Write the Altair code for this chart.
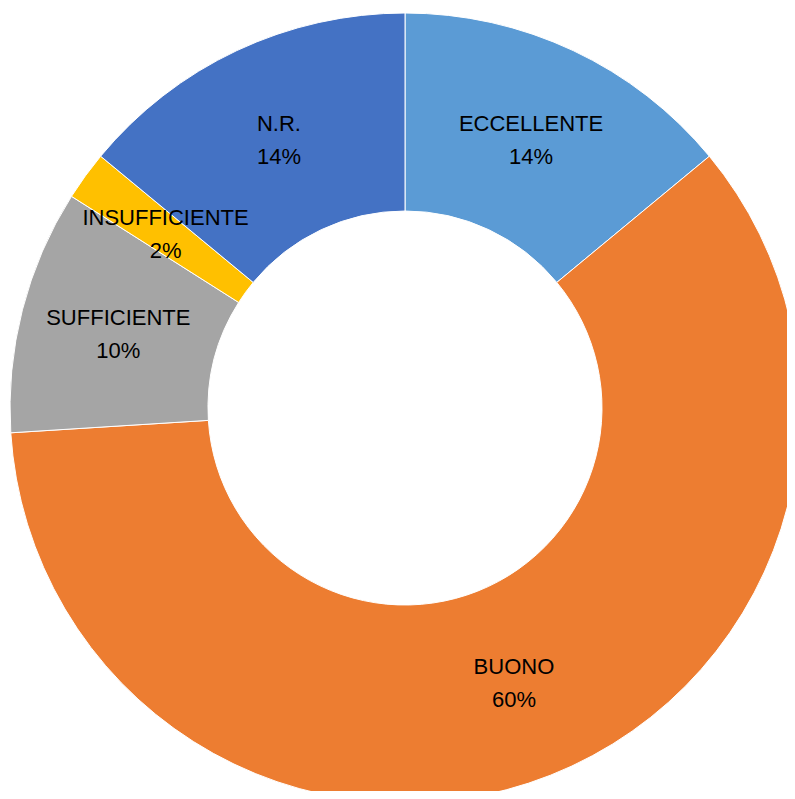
import altair as alt
import pandas as pd

categories = ["ECCELLENTE", "BUONO", "SUFFICIENTE", "INSUFFICIENTE", "N.R."]
counts = [7, 30, 5, 1, 7]
colors = ["#5B9BD5", "#ED7D31", "#A5A5A5", "#FFC000", "#4472C4"]

total = sum(counts)
df = pd.DataFrame({
    "cat": categories,
    "n": counts,
    "order": list(range(len(categories))),
})
df["label"] = [f"{c}\n{round(n / total * 100)}%" for c, n in zip(categories, counts)]

base = alt.Chart(df).encode(
    theta=alt.Theta("n:Q", stack=True),
    order=alt.Order("order:Q"),
    x=alt.value(397),
    y=alt.value(400),
)

arcs = base.mark_arc(outerRadius=395, innerRadius=197, stroke="white", strokeWidth=1).encode(
    color=alt.Color("cat:N", scale=alt.Scale(domain=categories, range=colors), legend=None)
)

text = base.mark_text(
    radius=296, fontSize=22, font="Liberation Sans", color="black",
    lineBreak="\n", lineHeight=33, align="center", baseline="middle", dy=-16,
).encode(text="label:N")

chart = (arcs + text).properties(
    width=779, height=783, padding=0, autosize=alt.AutoSizeParams(type="none")
).configure_view(stroke=None)

chart.save("out.html", embed_options={"renderer": "svg", "actions": False})
